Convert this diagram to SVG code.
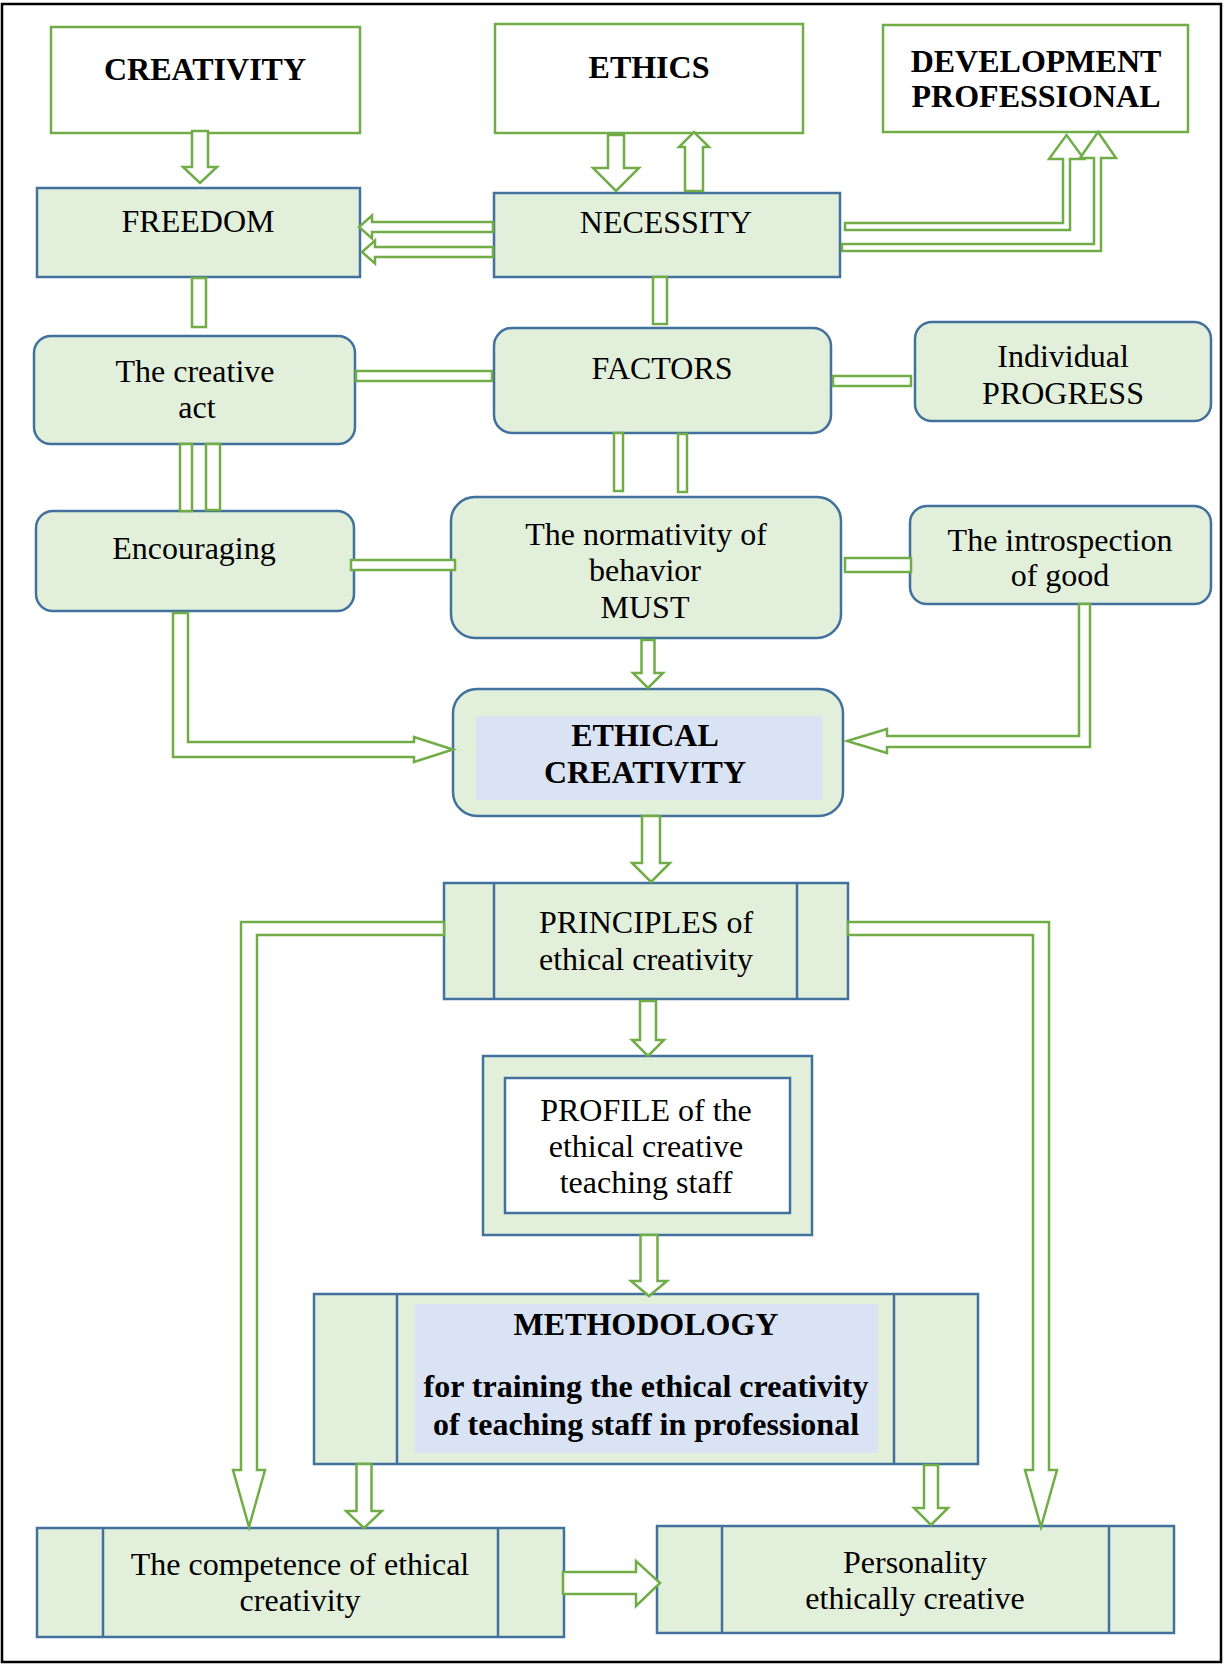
<svg xmlns="http://www.w3.org/2000/svg" width="1225" height="1665" viewBox="0 0 1225 1665">
<style>
.t{font-family:"Liberation Serif","Times New Roman",serif;font-size:32px;fill:#000;text-anchor:middle}
.b{font-weight:bold}
.top{fill:#fff;stroke:#70AD47;stroke-width:2.5}
.box{fill:#E2EFDA;stroke:#41719C;stroke-width:2.5}
.in{fill:#DAE3F3;stroke:none}
.wh{fill:#fff;stroke:#41719C;stroke-width:2.5}
.ln{stroke:#41719C;stroke-width:2.5;fill:none}
.c{fill:#fff;stroke:#70AD47;stroke-width:2.5;stroke-linejoin:miter}
</style>
<rect x="2" y="4" width="1219" height="1658" fill="#fff" stroke="#000" stroke-width="2.5"/>

<g id="creativity"><rect class="top" x="51" y="27" width="309" height="106"/><text class="t b" x="205" y="80">CREATIVITY</text></g>
<g id="ethics"><rect class="top" x="495" y="24" width="308" height="109"/><text class="t b" x="649" y="78">ETHICS</text></g>
<g id="development"><rect class="top" x="883" y="25" width="305" height="107"/><text class="t b" x="1036" y="72">DEVELOPMENT</text><text class="t b" x="1036" y="107">PROFESSIONAL</text></g>
<g id="freedom"><rect class="box" x="37" y="188" width="323" height="89"/><text class="t" x="198" y="232">FREEDOM</text></g>
<g id="necessity"><rect class="box" x="494" y="193" width="346" height="84"/><text class="t" x="666" y="233">NECESSITY</text></g>
<g id="creative-act"><rect class="box" x="34" y="336" width="321" height="108" rx="17"/><text class="t" x="195" y="382">The creative</text><text class="t" x="197" y="418">act</text></g>
<g id="factors"><rect class="box" x="494" y="328" width="337" height="105" rx="18"/><text class="t" x="662" y="379">FACTORS</text></g>
<g id="individual"><rect class="box" x="915" y="322" width="296" height="99" rx="17"/><text class="t" x="1063" y="367">Individual</text><text class="t" x="1063" y="404">PROGRESS</text></g>
<g id="encouraging"><rect class="box" x="36" y="511" width="318" height="100" rx="17"/><text class="t" x="194" y="559">Encouraging</text></g>
<g id="normativity"><rect class="box" x="451" y="497" width="390" height="141" rx="24"/><text class="t" x="646" y="545">The normativity of</text><text class="t" x="645" y="581">behavior</text><text class="t" x="645" y="618">MUST</text></g>
<g id="introspection"><rect class="box" x="910" y="506" width="301" height="98" rx="17"/><text class="t" x="1060" y="551">The introspection</text><text class="t" x="1060" y="586">of good</text></g>
<g id="ethical-creativity"><rect class="box" x="453" y="689" width="390" height="127" rx="24"/><rect class="in" x="476" y="716" width="346" height="84"/><text class="t b" x="645" y="746">ETHICAL</text><text class="t b" x="645" y="783">CREATIVITY</text></g>
<g id="principles"><rect class="box" x="444" y="883" width="404" height="116"/><line class="ln" x1="494" y1="883" x2="494" y2="999"/><line class="ln" x1="797" y1="883" x2="797" y2="999"/><text class="t" x="646" y="933">PRINCIPLES of</text><text class="t" x="646" y="970">ethical creativity</text></g>
<g id="profile"><rect class="box" x="483" y="1056" width="329" height="179"/><rect class="wh" x="505" y="1078" width="285" height="135"/><text class="t" x="646" y="1121">PROFILE of the</text><text class="t" x="646" y="1157">ethical creative</text><text class="t" x="646" y="1193">teaching staff</text></g>
<g id="methodology"><rect class="box" x="314" y="1294" width="664" height="170"/><line class="ln" x1="397" y1="1294" x2="397" y2="1464"/><line class="ln" x1="894" y1="1294" x2="894" y2="1464"/><rect class="in" x="415" y="1304" width="463" height="149"/><text class="t b" x="646" y="1335">METHODOLOGY</text><text class="t b" x="646" y="1397">for training the ethical creativity</text><text class="t b" x="646" y="1435">of teaching staff in professional</text></g>
<g id="competence"><rect class="box" x="37" y="1528" width="527" height="109"/><line class="ln" x1="103" y1="1528" x2="103" y2="1637"/><line class="ln" x1="498" y1="1528" x2="498" y2="1637"/><text class="t" x="300" y="1575">The competence of ethical</text><text class="t" x="300" y="1611">creativity</text></g>
<g id="personality"><rect class="box" x="657" y="1526" width="517" height="107"/><line class="ln" x1="722" y1="1526" x2="722" y2="1633"/><line class="ln" x1="1109" y1="1526" x2="1109" y2="1633"/><text class="t" x="915" y="1573">Personality</text><text class="t" x="915" y="1609">ethically creative</text></g>

<g id="connectors">
<polygon class="c" points="192,131 208,131 208,167 217,167 200,183 183,167 192,167"/>
<polygon class="c" points="608,135 624,135 624,168 639,168 616,191 593,168 608,168"/>
<polygon class="c" points="685,191 703,191 703,147 709,147 694,132 679,147 685,147"/>
<polygon class="c" points="493,222 372,222 372,215.5 359,227 372,238.5 372,232 493,232"/>
<polygon class="c" points="493,247 375,247 375,240.5 362,252 375,263.5 375,257 493,257"/>
<polygon class="c" points="845,223 1063,223 1063,159 1049,159 1066.5,135 1084,159 1070,159 1070,230 845,230"/>
<polygon class="c" points="842,244 1094,244 1094,158 1080,158 1098,132 1116,158 1101,158 1101,251 842,251"/>
<rect class="c" x="192" y="278" width="14" height="49"/>
<rect class="c" x="653" y="277" width="14" height="47"/>
<rect class="c" x="356" y="371" width="136" height="10"/>
<rect class="c" x="833" y="376" width="78" height="10"/>
<rect class="c" x="180" y="444" width="12" height="67"/>
<rect class="c" x="206" y="444" width="14" height="66"/>
<rect class="c" x="614" y="433" width="9" height="58"/>
<rect class="c" x="678" y="434" width="9" height="58"/>
<rect class="c" x="351" y="560" width="104" height="10"/>
<rect class="c" x="845" y="558" width="66" height="14"/>
<polygon class="c" points="173,613 188,613 188,742 414,742 414,737 453,749.5 414,762 414,757 173,757"/>
<polygon class="c" points="1079,604 1090,604 1090,747 887,747 887,753 847,741 887,729 887,736 1079,736"/>
<polygon class="c" points="641.5,640 654.5,640 654.5,673 663,673 648,688 633,673 641.5,673"/>
<polygon class="c" points="642,816 660,816 660,863 670,863 651,882 632,863 642,863"/>
<polygon class="c" points="444,922 241,922 241,1470 233,1470 249,1527 265,1470 257,1470 257,935 444,935"/>
<polygon class="c" points="848,922 1049,922 1049,1470 1057,1470 1041,1527 1025,1470 1033,1470 1033,935 848,935"/>
<polygon class="c" points="640,1001 656,1001 656,1040 664,1040 648,1056 632,1040 640,1040"/>
<polygon class="c" points="640.5,1235 657.5,1235 657.5,1281 667,1281 649,1296 631,1281 640.5,1281"/>
<polygon class="c" points="356.5,1464 371.5,1464 371.5,1511 382,1511 364,1528 346,1511 356.5,1511"/>
<polygon class="c" points="924,1465 938,1465 938,1508 948,1508 931,1525 914,1508 924,1508"/>
<polygon class="c" points="563,1572 636,1572 636,1561 660,1583 636,1606 636,1594 563,1594"/>
</g>
</svg>
